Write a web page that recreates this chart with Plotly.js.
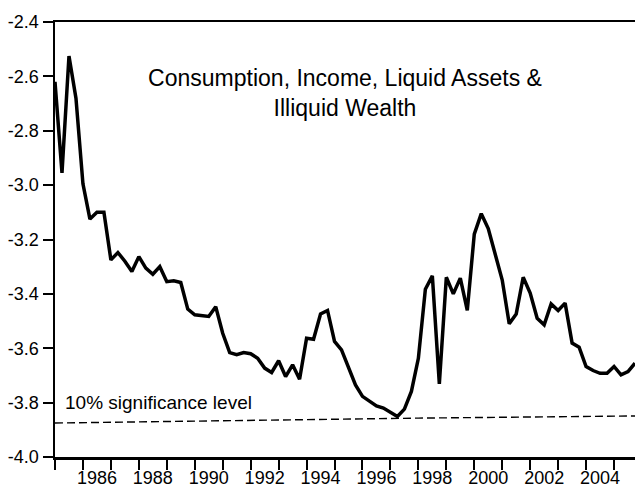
<!DOCTYPE html>
<html>
<head>
<meta charset="utf-8">
<script src="https://cdn.plot.ly/plotly-3.0.1.min.js"></script>
<style>html,body{margin:0;padding:0;background:#fff;}#chart{width:635px;height:491px;}</style>
</head>
<body>
<div id="chart"></div>
<script>
// Quarterly series, 1985Q1 .. 2005Q4
const startYear = 1985;
const statValues = [
  -2.620, -2.955, -2.525, -2.680,   // 1985
  -2.995, -3.125, -3.100, -3.100,   // 1986
  -3.275, -3.248, -3.280, -3.318,   // 1987
  -3.263, -3.305, -3.328, -3.300,   // 1988
  -3.355, -3.352, -3.358, -3.456,   // 1989
  -3.477, -3.480, -3.483, -3.447,   // 1990
  -3.545, -3.616, -3.624, -3.616,   // 1991
  -3.620, -3.637, -3.673, -3.689,   // 1992
  -3.646, -3.704, -3.661, -3.714,   // 1993
  -3.563, -3.567, -3.474, -3.461,   // 1994
  -3.575, -3.606, -3.667, -3.735,   // 1995
  -3.777, -3.796, -3.812, -3.820,   // 1996
  -3.836, -3.851, -3.824, -3.759,   // 1997
  -3.637, -3.383, -3.334, -3.731,   // 1998
  -3.339, -3.400, -3.342, -3.461,   // 1999
  -3.180, -3.105, -3.160, -3.250,   // 2000
  -3.349, -3.510, -3.474, -3.339,   // 2001
  -3.397, -3.490, -3.514, -3.437,   // 2002
  -3.461, -3.434, -3.581, -3.596,   // 2003
  -3.667, -3.682, -3.692, -3.692,   // 2004
  -3.667, -3.698, -3.686, -3.655    // 2005
];
// 10% critical value line (read at a few dates)
const critDates = [1985, 1991, 1998, 2005.75];
const critValues = [-3.875, -3.866, -3.857, -3.849];

const yTickVals = [-4.0, -3.8, -3.6, -3.4, -3.2, -3.0, -2.8, -2.6, -2.4];
const yTickText = ["-4.0", "-3.8", "-3.6", "-3.4", "-3.2", "-3.0", "-2.8", "-2.6", "-2.4"];
const yearTicks = [1985,1986,1987,1988,1989,1990,1991,1992,1993,1994,1995,1996,1997,1998,1999,2000,2001,2002,2003,2004,2005];
const yearLabels = ["1986","1988","1990","1992","1994","1996","1998","2000","2002","2004"];

const titleText = "Consumption, Income, Liquid Assets &<br>Illiquid Wealth";
const noteText = "10% significance level";

const xq = statValues.map((v, i) => startYear + i * 0.25);
const labelPos = yearLabels.map(s => Number(s) + 0.5);

const FONT = "Liberation Sans, Arial, sans-serif";

const traces = [
  {x: critDates, y: critValues, type: "scatter", mode: "lines",
   line: {color: "#000", width: 1.4, dash: "8px,4px"}, hoverinfo: "skip"},
  {x: xq, y: statValues, type: "scatter", mode: "lines",
   line: {color: "#000", width: 3.5}, hoverinfo: "skip"},
  {x: labelPos, y: [null], xaxis: "x2", type: "scatter", mode: "lines", showlegend: false}
];

const layout = {
  width: 635, height: 491,
  margin: {l: 55, r: 0, t: 22, b: 34, pad: 0},
  paper_bgcolor: "#fff", plot_bgcolor: "#fff",
  showlegend: false,
  font: {family: FONT, color: "#000", size: 18},
  title: {text: titleText, font: {family: FONT, size: 23, color: "#000"},
          x: 0.5, xref: "paper", xanchor: "center",
          y: 0.853, yref: "paper", yanchor: "top"},
  xaxis: {range: [1985, 2005.75], showgrid: false, zeroline: false,
          tickmode: "array", tickvals: yearTicks, showticklabels: false,
          ticks: "outside", ticklen: 10, tickwidth: 2, tickcolor: "#000",
          showline: true, linecolor: "#000", linewidth: 2.5, mirror: true},
  xaxis2: {range: [1985, 2005.75], overlaying: "x", anchor: "y", side: "bottom",
           showgrid: false, zeroline: false, showline: false,
           tickmode: "array", tickvals: labelPos, ticktext: yearLabels,
           ticks: "outside", ticklen: 4, tickcolor: "rgba(0,0,0,0)",
           tickfont: {family: FONT, size: 18, color: "#000"}},
  yaxis: {range: [-4.0, -2.4], showgrid: false, zeroline: false,
          tickmode: "array", tickvals: yTickVals, ticktext: yTickText,
          ticks: "outside", ticklen: 10, tickwidth: 2, tickcolor: "#000",
          tickfont: {family: FONT, size: 18, color: "#000"},
          showline: true, linecolor: "#000", linewidth: 2.5},
  annotations: [
    {text: noteText, xref: "paper", x: 0.013, xanchor: "left",
     yref: "y", y: -3.8, yanchor: "middle", showarrow: false,
     font: {family: FONT, size: 19, color: "#000"}}
  ]
};

Plotly.newPlot("chart", traces, layout, {staticPlot: true, displayModeBar: false});
</script>
</body>
</html>
